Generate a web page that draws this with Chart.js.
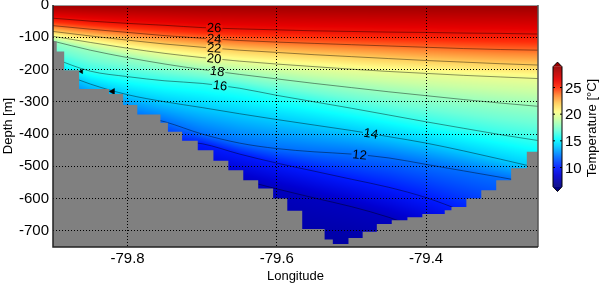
<!DOCTYPE html>
<html>
<head>
<meta charset="utf-8">
<script src="https://cdn.jsdelivr.net/npm/chart.js@4.4.1/dist/chart.umd.min.js"></script>
<style>
html, body { margin: 0; padding: 0; background: #fff; }
#wrap { width: 600px; height: 284px; }
canvas { display: block; }
</style>
</head>
<body>
<div id="wrap"><canvas id="section" width="600" height="284"></canvas></div>
<script>
// longitudes where the isotherm depths were read
var stationLon = [-79.9, -79.85, -79.8, -79.75, -79.7, -79.65, -79.6, -79.55, -79.5, -79.45, -79.4, -79.35, -79.3, -79.25];

// depth (m) of each isotherm at the stations
var iso26 = [41, 50, 57, 63, 70, 74, 77, 80, 82, 84, 85, 87, 88, 90];
var iso24 = [64, 75, 85, 95, 103, 110, 115, 119, 123, 127, 131, 135, 138, 140];
var iso22 = [82, 96, 109, 121, 131, 140, 147, 154, 160, 166, 172, 177, 182, 186];
var iso20 = [97, 116, 134, 150, 163, 174, 183, 191, 199, 206, 212, 218, 223, 228];
var iso18 = [112, 140, 163, 183, 200, 215, 229, 243, 256, 269, 281, 293, 304, 314];
var iso16 = [165, 205, 222, 235, 243, 258, 280, 300, 320, 341, 362, 382, 402, 420];
var iso14 = [200, 245, 278, 300, 318, 337, 355, 372, 389, 408, 428, 452, 478, 505];
var iso12 = [250, 300, 335, 362, 400, 428, 445, 455, 462, 474, 494, 514, 534, 555];
var iso10 = [300, 360, 400, 420, 430, 462, 490, 515, 540, 565, 597, 640, 690, 730];
var iso8 = [380, 450, 500, 520, 530, 542, 570, 598, 625, 658, 700, 740, 780, 800];
var isoTemps = [26, 24, 22, 20, 18, 16, 14, 12, 10, 8];
var surfaceTemp = 28.8;
var deepTemp = 6.4;   // at 900 m
var deepDepth = 900;

// sea floor: start longitude of each step and its depth (m)
var bathyLon = [-79.9, -79.895, -79.885, -79.865, -79.825, -79.806, -79.787, -79.756, -79.746, -79.727,
  -79.706, -79.685, -79.665, -79.645, -79.625, -79.605, -79.586, -79.566, -79.536, -79.525, -79.504,
  -79.485, -79.466, -79.446, -79.425, -79.405, -79.375, -79.366, -79.346, -79.326, -79.306, -79.286, -79.265];
var bathyDepth = [113, 144, 202, 260, 276, 310, 339, 365, 393, 421, 450, 483, 512, 543, 569, 600, 638,
  694, 727, 741, 722, 703, 679, 667, 658, 648, 636, 626, 600, 574, 543, 506, 455];

// contour labels
var labelTemps = [26, 24, 22, 20, 18, 16, 14, 12];
var labelLon = [-79.684, -79.684, -79.684, -79.684, -79.68, -79.676, -79.474, -79.489];

// small arrow marks
var markerLon = [-79.862, -79.82];
var markerDepth = [206, 268];

var depthTicks = [0, -100, -200, -300, -400, -500, -600, -700];
var lonTicks = [-79.8, -79.6, -79.4];
var cbTicks = [10, 15, 20, 25];

var isoDepths = [iso26, iso24, iso22, iso20, iso18, iso16, iso14, iso12, iso10, iso8];

var FONT = "'Liberation Sans', Arial, Helvetica, sans-serif";

var cmapStops = [
  [6.4, [0, 0, 130]], [8.5, [0, 0, 210]], [10, [0, 25, 255]], [12, [0, 110, 255]],
  [14, [0, 205, 255]], [15.3, [10, 255, 255]], [17, [110, 255, 215]], [19, [200, 255, 165]],
  [20.5, [255, 252, 135]], [22, [255, 205, 90]], [23.5, [255, 135, 50]], [25, [255, 45, 10]],
  [26.5, [230, 0, 0]], [28.9, [150, 0, 0]]
];

function cmapRGB(t) {
  if (t <= cmapStops[0][0]) return cmapStops[0][1];
  for (var i = 1; i < cmapStops.length; i++) {
    if (t <= cmapStops[i][0]) {
      var a = cmapStops[i - 1], b = cmapStops[i];
      var f = (t - a[0]) / (b[0] - a[0]);
      return [0, 1, 2].map(function (k) { return Math.round(a[1][k] + f * (b[1][k] - a[1][k])); });
    }
  }
  return cmapStops[cmapStops.length - 1][1];
}
function cmap(t) { return 'rgb(' + cmapRGB(t).join(',') + ')'; }

function interp(xs, ys, x) {
  if (x <= xs[0]) return ys[0];
  for (var i = 1; i < xs.length; i++) {
    if (x <= xs[i]) return ys[i - 1] + (x - xs[i - 1]) / (xs[i] - xs[i - 1]) * (ys[i] - ys[i - 1]);
  }
  return ys[ys.length - 1];
}

function profileAt(lon) {
  var p = [[0, surfaceTemp]];
  isoTemps.forEach(function (t, i) { p.push([interp(stationLon, isoDepths[i], lon), t]); });
  p.push([deepDepth, deepTemp]);
  return p;
}

function tempAt(prof, z) {
  for (var i = 1; i < prof.length; i++) {
    if (z <= prof[i][0]) {
      var a = prof[i - 1], b = prof[i];
      return a[1] + (z - a[0]) / (b[0] - a[0]) * (b[1] - a[1]);
    }
  }
  return prof[prof.length - 1][1];
}

// temperature field, one value per pixel of the plot area, read back through the scales
var fieldPlugin = {
  id: 'field',
  beforeDatasetsDraw: function (chart) {
    var ctx = chart.ctx, xs = chart.scales.x, ys = chart.scales.y, a = chart.chartArea;
    var x0 = Math.round(a.left), y0 = Math.round(a.top);
    var w = Math.round(a.right) - x0, h = Math.round(a.bottom) - y0;
    var img = ctx.createImageData(w, h);
    for (var i = 0; i < w; i++) {
      var prof = profileAt(xs.getValueForPixel(x0 + i + 0.5));
      for (var j = 0; j < h; j++) {
        var c = cmapRGB(tempAt(prof, -ys.getValueForPixel(y0 + j + 0.5)));
        var k = (j * w + i) * 4;
        img.data[k] = c[0]; img.data[k + 1] = c[1]; img.data[k + 2] = c[2]; img.data[k + 3] = 255;
      }
    }
    ctx.putImageData(img, x0, y0);
  }
};

// inline contour labels
var labelPlugin = {
  id: 'clabels',
  afterDatasetsDraw: function (chart) {
    var ctx = chart.ctx, xs = chart.scales.x, ys = chart.scales.y;
    ctx.save();
    ctx.font = '13px ' + FONT;
    ctx.textAlign = 'center';
    ctx.textBaseline = 'middle';
    labelTemps.forEach(function (t, i) {
      var k = isoTemps.indexOf(t);
      var lon = labelLon[i];
      var d = interp(stationLon, isoDepths[k], lon);
      var px = xs.getPixelForValue(lon), py = ys.getPixelForValue(-d);
      var pa = ys.getPixelForValue(-interp(stationLon, isoDepths[k], lon - 0.02));
      var pb = ys.getPixelForValue(-interp(stationLon, isoDepths[k], lon + 0.02));
      var ang = Math.atan2(pb - pa, xs.getPixelForValue(lon + 0.02) - xs.getPixelForValue(lon - 0.02));
      ctx.save();
      ctx.translate(px, py);
      ctx.rotate(ang);
      var tw = ctx.measureText(String(t)).width;
      ctx.fillStyle = cmap(t);
      ctx.fillRect(-tw / 2 - 1, -3, tw + 2, 6);
      ctx.fillStyle = '#000';
      ctx.fillText(String(t), 0, 0.5);
      ctx.restore();
    });
    ctx.restore();
  }
};

// axes box and colour bar
var framePlugin = {
  id: 'frame',
  afterDraw: function (chart) {
    var ctx = chart.ctx, a = chart.chartArea;
    ctx.save();
    ctx.lineWidth = 1;
    ctx.strokeStyle = '#9a9a9a';
    ctx.beginPath();
    ctx.moveTo(a.left, a.top + 0.5); ctx.lineTo(a.right, a.top + 0.5);
    ctx.stroke();
    ctx.strokeStyle = '#555';
    ctx.lineWidth = 1.5;
    ctx.beginPath();
    ctx.moveTo(a.right, a.top); ctx.lineTo(a.right, a.bottom);
    ctx.stroke();
    ctx.strokeStyle = '#222';
    ctx.beginPath();
    ctx.moveTo(a.left, a.top); ctx.lineTo(a.left, a.bottom); ctx.lineTo(a.right, a.bottom);
    ctx.stroke();

    // colour bar
    var cb = { left: 553, right: 562, top: 66.7, bottom: 186.7, min: 6.4, max: 28.9 };
    var h = cb.bottom - cb.top;
    for (var y = cb.top; y < cb.bottom; y += 1) {
      var t = cb.max - (y + 0.5 - cb.top) / h * (cb.max - cb.min);
      ctx.fillStyle = cmap(t);
      ctx.fillRect(cb.left, y, cb.right - cb.left, 1.2);
    }
    var cx = (cb.left + cb.right) / 2;
    ctx.fillStyle = cmap(cb.max);
    ctx.beginPath();
    ctx.moveTo(cb.left, cb.top); ctx.lineTo(cx, cb.top - 4.6); ctx.lineTo(cb.right, cb.top); ctx.closePath();
    ctx.fill();
    ctx.fillStyle = cmap(cb.min);
    ctx.beginPath();
    ctx.moveTo(cb.left, cb.bottom); ctx.lineTo(cx, cb.bottom + 4.8); ctx.lineTo(cb.right, cb.bottom); ctx.closePath();
    ctx.fill();
    ctx.strokeStyle = '#000';
    ctx.lineWidth = 1;
    ctx.beginPath();
    ctx.moveTo(cb.left, cb.top); ctx.lineTo(cx, cb.top - 4.6); ctx.lineTo(cb.right, cb.top);
    ctx.lineTo(cb.right, cb.bottom); ctx.lineTo(cx, cb.bottom + 4.8); ctx.lineTo(cb.left, cb.bottom);
    ctx.closePath();
    ctx.stroke();
    ctx.font = '15px ' + FONT;
    ctx.textAlign = 'left';
    ctx.textBaseline = 'middle';
    cbTicks.forEach(function (t) {
      var ty = cb.top + (cb.max - t) / (cb.max - cb.min) * h;
      ctx.strokeStyle = '#000';
      ctx.beginPath();
      ctx.moveTo(cb.left, ty); ctx.lineTo(cb.left + 2, ty);
      ctx.moveTo(cb.right - 2, ty); ctx.lineTo(cb.right, ty);
      ctx.stroke();
      ctx.fillStyle = '#000';
      ctx.fillText(String(t), 565, ty + 1);
    });
    ctx.save();
    ctx.translate(592, 128);
    ctx.rotate(-Math.PI / 2);
    ctx.font = '13px ' + FONT;
    ctx.textAlign = 'center';
    ctx.fillText('Temperature [\u00B0C]', 0, 0);
    ctx.restore();
    ctx.restore();
  }
};

var contourSets = isoTemps.map(function (t, i) {
  return {
    label: String(t),
    data: stationLon.map(function (lon, j) { return { x: lon, y: -isoDepths[i][j] }; }),
    borderColor: 'rgba(0,0,0,0.42)',
    borderWidth: 1,
    pointRadius: 0,
    cubicInterpolationMode: 'monotone',
    fill: false,
    order: 2
  };
});

var seafloor = {
  label: 'bottom',
  data: bathyLon.map(function (lon, i) { return { x: lon, y: -bathyDepth[i] }; })
    .concat([{ x: -79.25, y: -bathyDepth[bathyDepth.length - 1] }]),
  stepped: true,
  fill: 'start',
  backgroundColor: '#808080',
  borderColor: 'rgba(0,0,0,0)',
  borderWidth: 1,
  pointRadius: 0,
  order: 0
};

var markers = {
  label: 'marks',
  data: markerLon.map(function (lon, i) { return { x: lon, y: -markerDepth[i] }; }),
  showLine: false,
  pointStyle: 'triangle',
  rotation: 270,
  pointRadius: [2.5, 3.5],
  backgroundColor: '#000',
  borderColor: '#000',
  borderWidth: 0.5,
  order: 1
};

var tickFont = { family: FONT, size: 15 };

new Chart(document.getElementById('section'), {
  type: 'line',
  data: { datasets: [seafloor, markers].concat(contourSets) },
  options: {
    responsive: false,
    animation: false,
    devicePixelRatio: 1,
    layout: { padding: { top: 5, right: 62, left: 0, bottom: 0 } },
    plugins: { legend: { display: false }, tooltip: { enabled: false } },
    scales: {
      x: {
        type: 'linear',
        min: -79.9,
        max: -79.25,
        afterBuildTicks: function (s) { s.ticks = lonTicks.map(function (v) { return { value: v }; }); },
        afterFit: function (s) { s.height = 37; s.paddingLeft = 0; s.paddingRight = 0; },
        ticks: {
          callback: function (v) { return v.toFixed(1); },
          color: '#000', font: tickFont, padding: 3, maxRotation: 0, autoSkip: false, z: 1
        },
        grid: { color: '#000', lineWidth: 1, drawTicks: false, z: 1 },
        border: { display: false, dash: [1, 2], z: 1 },
        title: { display: true, text: 'Longitude', color: '#000', font: { family: FONT, size: 13 }, padding: 0 }
      },
      y: {
        type: 'linear',
        min: -750,
        max: 0,
        afterBuildTicks: function (s) { s.ticks = depthTicks.map(function (v) { return { value: v }; }); },
        afterFit: function (s) { s.width = 53; s.paddingTop = 0; s.paddingBottom = 0; },
        ticks: {
          callback: function (v) { return String(v); },
          color: '#000', font: tickFont, padding: 4, autoSkip: false, z: 1
        },
        grid: {
          color: function (c) { return c.tick && c.tick.value === 0 ? 'rgba(0,0,0,0)' : '#000'; },
          lineWidth: 1, drawTicks: false, z: 1
        },
        border: { display: false, dash: [1, 2], z: 1 },
        title: { display: true, text: 'Depth [m]', color: '#000', font: { family: FONT, size: 13 }, padding: 1 }
      }
    }
  },
  plugins: [fieldPlugin, labelPlugin, framePlugin]
});
</script>
</body>
</html>
